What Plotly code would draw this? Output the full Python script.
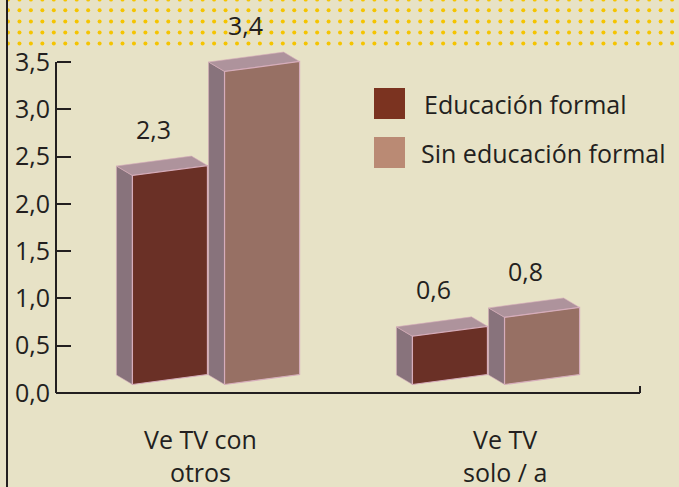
import numpy as np
import plotly.graph_objects as go

# ---------------- data ----------------
categories = ["Ve TV con<br>otros", "Ve TV<br>solo / a"]
series_names = ["Educación formal", "Sin educación formal"]
educacion_formal = [2.3, 0.6]
sin_educacion_formal = [3.4, 0.8]
value_labels_ef = ["2,3", "0,6"]
value_labels_sef = ["3,4", "0,8"]
y_tick_vals = [0.0, 0.5, 1.0, 1.5, 2.0, 2.5, 3.0, 3.5]
y_tick_text = ["0,0", "0,5", "1,0", "1,5", "2,0", "2,5", "3,0", "3,5"]

# ---------------- styling / geometry ----------------
W, H = 679, 487
FONT = "Open Sans"
FS = 25
TXT = "#231f20"
BG = "#e7e2c6"
FRONT = ["#6a3026", "#977064"]
LEGEND_COL = ["#7b3320", "#ba8a74"]
SIDE = "#88737c"
TOP = "#ae939c"
EDGE = "#d6adbb"

# data-axis scale (px per unit) and placement
PX_X = 280.0
PX_Y = 94.57
X0_PX = 216.0      # pixel position of category 0
Y0_PX = 393.0      # pixel position of value 0
X_RANGE = [-X0_PX / PX_X, (W - X0_PX) / PX_X]
Y_RANGE = [-(H - Y0_PX) / PX_Y, Y0_PX / PX_Y]

BW = 0.268   # front face width
GAP = 0.061  # gap between front faces
DX = 0.057   # depth offset x
DY = 0.100   # depth offset y
SLANT = 0.105
BASE = 0.09
LABEL_OFF = [-0.054, 0.032]
VAL_LABEL_OFF = 0.29

fig = go.Figure()

# dotted band at top (decoration, pixel axes)
dot_x = 8 + 11.45 * np.arange(0, 59)
dot_y = np.array([-0.5, 10.3, 21.5, 32.6, 43.4])
gx, gy = np.meshgrid(dot_x, dot_y)
fig.add_trace(go.Scatter(x=gx.ravel(), y=gy.ravel(), mode="markers",
                         marker=dict(size=4, color="#f5c400"),
                         hoverinfo="skip", showlegend=False,
                         xaxis="x", yaxis="y"))

series = [educacion_formal, sin_educacion_formal]
labels = [value_labels_ef, value_labels_sef]

annotations = []
for c in range(len(categories)):
    for i, vals in enumerate(series):
        v = vals[c]
        xl = c - (2 * BW + GAP) / 2 + i * (BW + GAP)
        # side face
        fig.add_trace(go.Scatter(
            x=[xl - DX, xl, xl, xl - DX, xl - DX],
            y=[BASE + DY, BASE, v, v + DY, BASE + DY],
            fill="toself", fillcolor=SIDE, mode="lines",
            line=dict(color=EDGE, width=0.6), hoverinfo="skip",
            showlegend=False, xaxis="x2", yaxis="y2"))
        # top face
        fig.add_trace(go.Scatter(
            x=[xl, xl + BW, xl + BW - DX, xl - DX, xl],
            y=[v, v + SLANT, v + SLANT + DY, v + DY, v],
            fill="toself", fillcolor=TOP, mode="lines",
            line=dict(color=EDGE, width=0.6), hoverinfo="skip",
            showlegend=False, xaxis="x2", yaxis="y2"))
        # front face
        fig.add_trace(go.Scatter(
            x=[xl, xl + BW, xl + BW, xl, xl],
            y=[BASE, BASE + SLANT, v + SLANT, v, BASE],
            fill="toself", fillcolor=FRONT[i], mode="lines",
            line=dict(color=EDGE, width=1.2), name=series_names[i],
            hoverinfo="skip", showlegend=False, xaxis="x2", yaxis="y2"))
        # value label
        annotations.append(dict(
            x=xl - DX + (BW + DX) / 2 - 0.03, y=v + SLANT + DY + VAL_LABEL_OFF,
            xref="x2", yref="y2", text=labels[i][c], showarrow=False,
            xanchor="center", yanchor="middle",
            font=dict(family=FONT, size=FS, color=TXT)))
    # category label
    annotations.append(dict(
        x=c + LABEL_OFF[c], y=-0.66, xref="x2", yref="y2",
        text=categories[c], showarrow=False, xanchor="center",
        yanchor="middle", font=dict(family=FONT, size=FS, color=TXT)))

# legend (manual)
leg_y = [104, 153]
for i, name in enumerate(series_names):
    annotations.append(dict(
        x=422 if i == 0 else 419, y=leg_y[i], xref="x", yref="y", text=name,
        showarrow=False, xanchor="left", yanchor="middle",
        font=dict(family=FONT, size=FS, color=TXT)))

shapes = []
for i in range(2):
    shapes.append(dict(type="rect", xref="x", yref="y",
                       x0=374, x1=405, y0=leg_y[i] - 16, y1=leg_y[i] + 15,
                       fillcolor=LEGEND_COL[i], line=dict(width=0)))

ax_left = 56 / W
ax_right = 640 / W
# left border line
shapes.append(dict(type="line", xref="paper", yref="paper", x0=7 / W, x1=7 / W,
                   y0=0, y1=1, line=dict(color=TXT, width=2)))
# y axis line
shapes.append(dict(type="line", xref="paper", yref="y2", x0=ax_left, x1=ax_left,
                   y0=0, y1=3.5, line=dict(color=TXT, width=2)))
# x axis line
shapes.append(dict(type="line", xref="paper", yref="y2", x0=ax_left, x1=ax_right,
                   y0=0, y1=0, line=dict(color=TXT, width=2)))
shapes.append(dict(type="line", xref="paper", yref="y2", x0=ax_right, x1=ax_right,
                   y0=0, y1=0.075, line=dict(color=TXT, width=2)))

fig.update_layout(
    width=W, height=H, autosize=False,
    margin=dict(l=0, r=0, t=0, b=0),
    paper_bgcolor=BG, plot_bgcolor=BG,
    showlegend=False,
    xaxis=dict(range=[0, W], visible=False, domain=[0, 1]),
    yaxis=dict(range=[H, 0], visible=False, domain=[0, 1]),
    xaxis2=dict(range=X_RANGE, overlaying="x", visible=False),
    yaxis2=dict(range=Y_RANGE, overlaying="y", anchor="free", position=ax_left,
                side="left", showline=False, showgrid=False, zeroline=False,
                ticks="inside", ticklen=14, tickwidth=2, tickcolor=TXT,
                tickvals=y_tick_vals, ticktext=y_tick_text,
                ticklabelstandoff=6,
                tickfont=dict(family=FONT, size=FS, color=TXT)),
    annotations=annotations,
    shapes=shapes,
)

fig.write_html("out.html", config={"displayModeBar": False},
               post_script="document.body.style.margin='0';"
                           "document.body.style.overflow='hidden';")
